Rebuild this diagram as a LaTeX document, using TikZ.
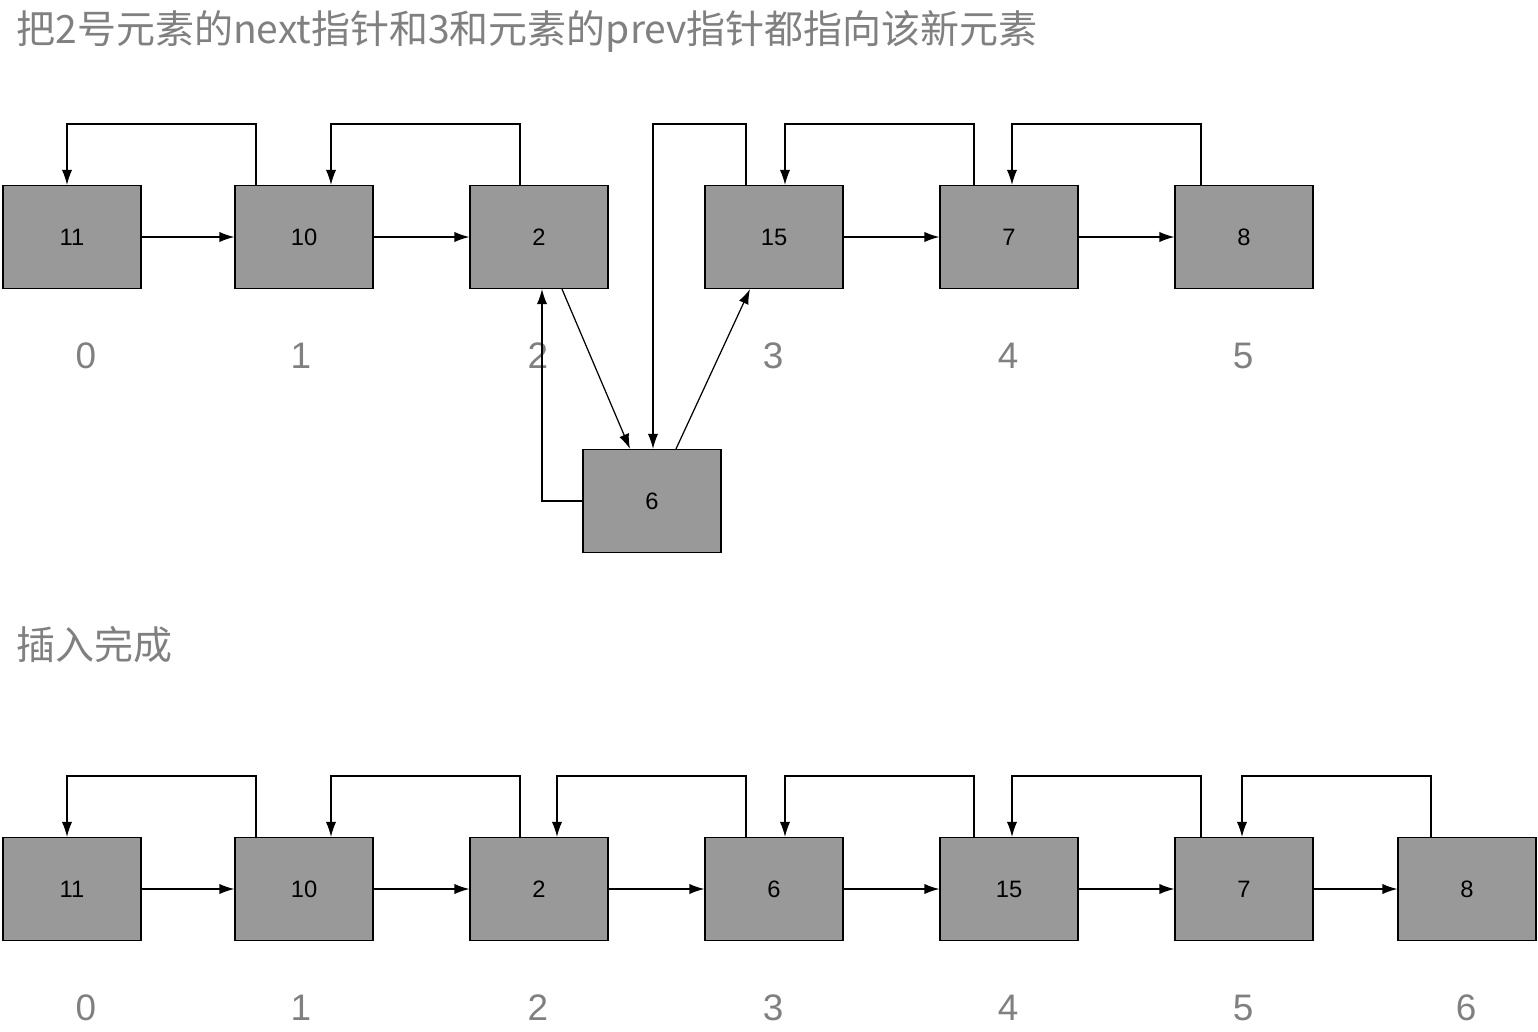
\documentclass[tikz,border=0pt]{standalone}
\usepackage{fontspec}
\setmainfont{Liberation Sans}
\newfontfamily\cjk{Noto Sans CJK SC}
\usepackage{tikz}
\usetikzlibrary{arrows.meta,positioning}
\definecolor{boxgray}{HTML}{999999}
\definecolor{txtgray}{HTML}{808080}
\tikzset{
  elem/.style={draw=black,fill=boxgray,minimum width=2.76cm,minimum height=2.06cm,inner sep=0pt,line width=0.7pt,font=\fontsize{13.5}{15}\selectfont},
  idx/.style={text=txtgray,inner sep=0pt,font=\fontsize{21}{24}\selectfont},
  ptr/.style={line width=0.7pt,-{Latex[length=8.5pt,width=5.8pt]}},
  caption/.style={anchor=west,text=txtgray,inner sep=0pt,font=\cjk\fontsize{22.2}{26}\selectfont}
}
\begin{document}
\begin{tikzpicture}[x=0.02cm,y=-0.02cm]
\useasboundingbox (0,0) rectangle (1538,1031);
% before insertion
\node[caption] (t1) at (16,31) {把2号元素的next指针和3和元素的prev指针都指向该新元素};
\node[elem] (a0) at (72,237) {11};
\node[elem] (a1) at (304,237) {10};
\node[elem] (a2) at (539,237) {2};
\node[elem] (a3) at (774,237) {15};
\node[elem] (a4) at (1009,237) {7};
\node[elem] (a5) at (1244,237) {8};
\node[elem] (n6) at (652,501) {6};
\node[idx] (i0) at (86,356) {0};
\node[idx] (i1) at (301,356) {1};
\node[idx] (i2) at (538,356) {2};
\node[idx] (i3) at (773,356) {3};
\node[idx] (i4) at (1008,356) {4};
\node[idx] (i5) at (1243,356) {5};
\draw[ptr] (a0.east)--(a1.west);
\draw[ptr] (a1.east)--(a2.west);
\draw[ptr] (a3.east)--(a4.west);
\draw[ptr] (a4.east)--(a5.west);
\draw[ptr] (a1.north -| 256,0) |- (67,124) -- (a0.north -| 67,0);
\draw[ptr] (a2.north -| 520,0) |- (331,124) -- (a1.north -| 331,0);
\draw[ptr] (a3.north -| 746,0) |- (653,124) -- (n6.north -| 653,0);
\draw[ptr] (a4.north -| 974,0) |- (785,124) -- (a3.north -| 785,0);
\draw[ptr] (a5.north -| 1201,0) |- (1012,124) -- (a4.north -| 1012,0);
\draw[ptr] (a2.south -| 562,0)--(n6.north -| 630,0);
\draw[ptr] (n6.north -| 676,0)--(a3.south -| 750,0);
\draw[ptr] (n6.west) -| (a2.south -| 542,0);
% after insertion
\node[caption] (t2) at (16,645) {插入完成};
\node[elem] (b0) at (72,889) {11};
\node[elem] (b1) at (304,889) {10};
\node[elem] (b2) at (539,889) {2};
\node[elem] (b3) at (774,889) {6};
\node[elem] (b4) at (1009,889) {15};
\node[elem] (b5) at (1244,889) {7};
\node[elem] (b6) at (1467,889) {8};
\node[idx] (j0) at (86,1008) {0};
\node[idx] (j1) at (301,1008) {1};
\node[idx] (j2) at (538,1008) {2};
\node[idx] (j3) at (773,1008) {3};
\node[idx] (j4) at (1008,1008) {4};
\node[idx] (j5) at (1243,1008) {5};
\node[idx] (j6) at (1466,1008) {6};
\draw[ptr] (b0.east)--(b1.west);
\draw[ptr] (b1.east)--(b2.west);
\draw[ptr] (b2.east)--(b3.west);
\draw[ptr] (b3.east)--(b4.west);
\draw[ptr] (b4.east)--(b5.west);
\draw[ptr] (b5.east)--(b6.west);
\draw[ptr] (b1.north -| 256,0) |- (67,776) -- (b0.north -| 67,0);
\draw[ptr] (b2.north -| 520,0) |- (331,776) -- (b1.north -| 331,0);
\draw[ptr] (b3.north -| 746,0) |- (557,776) -- (b2.north -| 557,0);
\draw[ptr] (b4.north -| 974,0) |- (785,776) -- (b3.north -| 785,0);
\draw[ptr] (b5.north -| 1201,0) |- (1012,776) -- (b4.north -| 1012,0);
\draw[ptr] (b6.north -| 1431,0) |- (1242,776) -- (b5.north -| 1242,0);
\end{tikzpicture}
\end{document}
